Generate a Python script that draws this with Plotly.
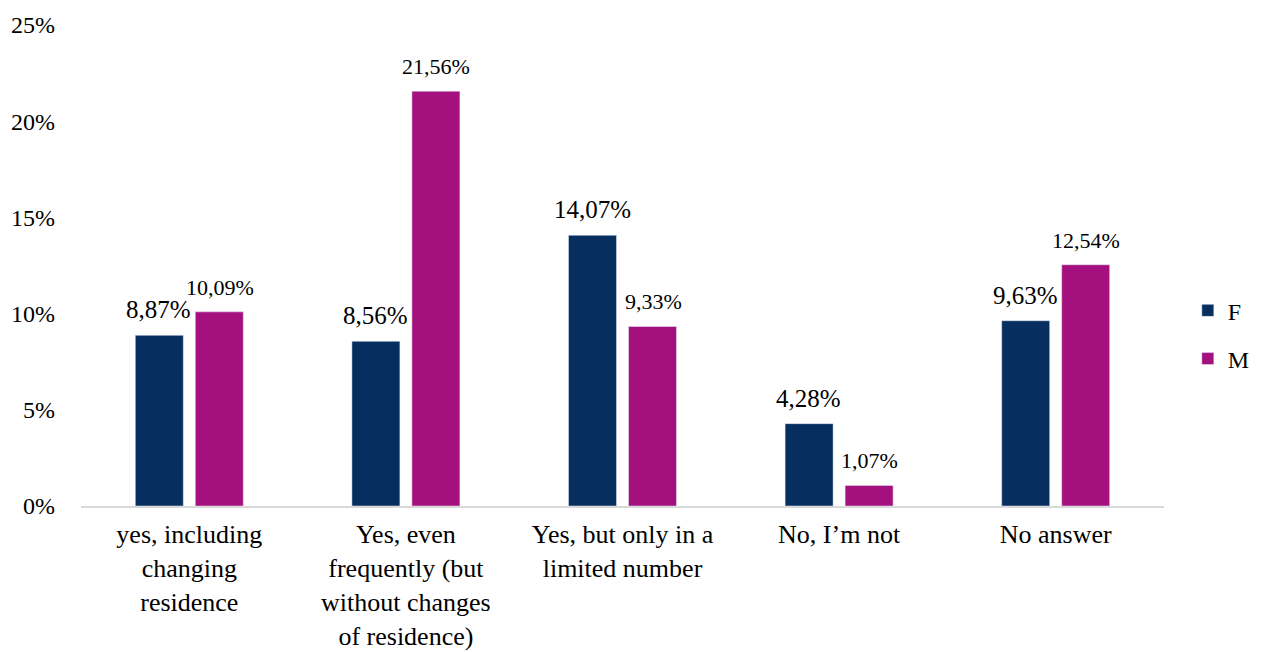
import plotly.graph_objects as go

# Survey answers by gender (share of respondents, %)
categories = [
    "yes, including<br>changing<br>residence",
    "Yes, even<br>frequently (but<br>without changes<br>of residence)",
    "Yes, but only in a<br>limited number",
    "No, I\u2019m not",
    "No answer",
]
female = [8.87, 8.56, 14.07, 4.28, 9.63]
male = [10.09, 21.56, 9.33, 1.07, 12.54]
y_ticks = [0, 5, 10, 15, 20, 25]
y_tick_labels = ["0%", "5%", "10%", "15%", "20%", "25%"]

FONT = "Liberation Serif"
F_COLOR = "#062E5E"
M_COLOR = "#A5107F"


def pct(v):
    return f"{v:.2f}".replace(".", ",") + "%"


fig = go.Figure()
fig.add_trace(go.Bar(name="F", x=categories, y=female, marker_color=F_COLOR,
                     legendgroup="f", hoverinfo="skip"))
fig.add_trace(go.Bar(name="M", x=categories, y=male, marker_color=M_COLOR,
                     legendgroup="m", hoverinfo="skip"))

# value labels above each bar
slot_px = 30.5
for cat, f, m in zip(categories, female, male):
    fig.add_annotation(x=cat, y=f, text=pct(f), showarrow=False,
                       xshift=-slot_px, yanchor="bottom", yshift=10,
                       font=dict(family=FONT, size=25, color="#000000"))
    fig.add_annotation(x=cat, y=m, text=pct(m), showarrow=False,
                       xshift=slot_px, yanchor="bottom", yshift=10,
                       font=dict(family=FONT, size=22, color="#000000"))

fig.update_layout(
    width=1263, height=652,
    barmode="group", bargap=0.446, bargroupgap=0.2,
    plot_bgcolor="white", paper_bgcolor="white",
    margin=dict(l=81, r=99, t=25, b=146, autoexpand=False),
    font=dict(family=FONT, color="#000000"),
    showlegend=True,
    legend=dict(x=1.022, y=0.356, xanchor="left", yanchor="middle",
                font=dict(family=FONT, size=24), tracegroupgap=14,
                traceorder="grouped", itemclick=False),
    xaxis=dict(showline=True, linecolor="#D9D9D9", linewidth=2,
               ticks="", tickfont=dict(family=FONT, size=26),
               ticklabelstandoff=4, automargin=False),
    yaxis=dict(range=[0, 25], tickvals=y_ticks, ticktext=y_tick_labels,
               showgrid=False, zeroline=False, showline=False,
               tickfont=dict(family=FONT, size=24), ticklabelstandoff=25,
               automargin=False),
)

fig.write_html("out.html")
